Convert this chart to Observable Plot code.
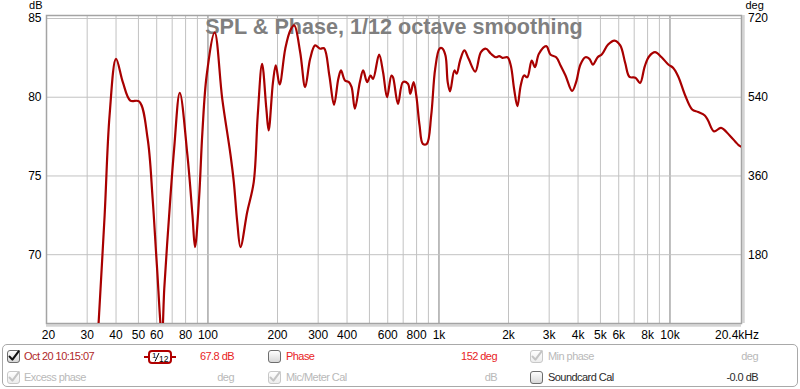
<!DOCTYPE html>
<html><head><meta charset="utf-8">
<script src="https://cdn.jsdelivr.net/npm/d3@7"></script>
<script src="https://cdn.jsdelivr.net/npm/@observablehq/plot@0.6"></script>
<style>
html,body{margin:0;padding:0;background:#fff;}
#wrap{position:relative;width:800px;height:389px;overflow:hidden;font-family:"Liberation Sans",Arial,sans-serif;}
#wrap svg.plot{position:absolute;left:0;top:0;}
#legend{position:absolute;left:2px;top:344px;width:796px;height:43px;border:1px solid #a9a9a9;border-radius:5px;box-sizing:border-box;}
.it{position:absolute;white-space:nowrap;font-size:11px;letter-spacing:-0.55px;line-height:13px;}
.r{text-align:right;}
.cb{position:absolute;}
</style>
</head><body>
<div id="wrap"></div>
<script>
// ---------- data ----------
const freqHz = [33.0, 33.6, 35.7, 37.5, 40.0, 42.8, 46.1, 50.4, 54.8, 57.6, 60.1,
  63.2, 64.7, 67.9, 71.4, 75.5, 81.5, 85.7, 87.9, 91.5, 94.6,
  98.7, 106.9, 115.3, 125.3, 129.4, 133.9, 138.3, 147.8, 157.8, 164.2,
  171.5, 178.9, 183.1, 191.2, 196.6, 204.2, 216.1, 227.1, 236.3, 250.7,
  263.5, 276.9, 290.9, 305.8, 318.1, 335.3, 351.3, 366.7, 376.6, 391.7,
  407.5, 418.7, 432.6, 454.6, 469.7, 488.8, 505.5, 518.6, 550.5, 572.8,
  596.0, 622.5, 632.4, 664.6, 698.4, 733.9, 751.6, 776.6, 797.6, 824.1,
  851.5, 886.1, 925.5, 963.0, 1005, 1032, 1067, 1091, 1117, 1166,
  1193, 1234, 1288, 1344, 1436, 1519, 1597, 1678, 1763, 1822,
  1883, 1979, 2046, 2114, 2185, 2259, 2335, 2413, 2520, 2604,
  2709, 2913, 3043, 3217, 3360, 3530, 3770, 3923, 4097, 4304,
  4479, 4636, 4863, 5075, 5397, 5756, 6092, 6401, 6679, 7087,
  7425, 7771, 8119, 8617, 9200, 9833, 10332, 10857, 11638, 12474,
  13241, 14148, 14618, 15516, 16630, 18135, 19883, 20400];
const splDb = [63.3, 65.6, 72.49, 78.84, 82.44, 80.96, 79.79, 79.73, 77.38, 73.57, 69.32,
  64.8, 67.86, 72.49, 76.75, 80.28, 76.30, 72.49, 70.48, 73.57, 77.78,
  81.38, 84.11, 79.90, 76.30, 74.61, 72.07, 70.48, 72.70, 74.61, 78.84,
  82.12, 79.29, 77.89, 80.96, 82.02, 80.81, 83.08, 84.24, 84.56, 82.86,
  80.64, 82.44, 83.29, 83.08, 83.11, 81.38, 79.52, 81.17, 81.70, 81.06,
  80.96, 80.64, 79.27, 80.96, 81.70, 80.96, 81.38, 81.17, 82.70, 81.59,
  80.00, 81.38, 81.27, 79.58, 80.96, 80.85, 80.22, 80.96, 80.11, 78.21,
  77.04, 77.04, 78.84, 81.81, 83.08, 83.11, 82.65, 80.96, 80.37, 81.70,
  81.49, 82.33, 82.97, 82.44, 81.63, 82.86, 83.08, 82.76, 82.54, 82.61,
  82.50, 82.54, 82.02, 80.54, 79.43, 80.75, 81.38, 81.27, 82.33, 81.91,
  82.76, 83.24, 82.70, 82.54, 82.02, 81.38, 80.40, 80.96, 82.08, 82.54,
  82.44, 82.07, 82.54, 82.73, 83.35, 83.60, 83.29, 82.17, 81.29, 81.24,
  80.90, 81.95, 82.59, 82.86, 82.54, 82.08, 81.86, 81.32, 80.11, 79.22,
  79.06, 78.84, 78.52, 77.83, 78.05, 77.57, 76.94, 76.85];

const xTickValues = [30, 40, 50, 60, 80, 100, 200, 300, 400, 600, 800, 1000, 2000, 3000, 4000, 5000, 6000, 8000, 10000];
const xTickLabels = ["30", "40", "50", "60", "80", "100", "200", "300", "400", "600", "800", "1k", "2k", "3k", "4k", "5k", "6k", "8k", "10k"];
const xEdgeValues = [20, 20400];
const xEdgeLabels = ["20", "20.4kHz"];
const minorGrid = [30, 40, 50, 60, 70, 80, 90, 200, 300, 400, 500, 600, 700, 800, 900,
  2000, 3000, 4000, 5000, 6000, 7000, 8000, 9000];
const decadeGrid = [100, 1000, 10000];
const dbTicks = [70, 75, 80, 85];
const dbLabels = ["70", "75", "80", "85"];
const degLabels = ["180", "360", "540", "720"];
const xDomain = [20, 20400];
const yDomain = [65.63, 85.19];
const titleText = ["SPL & Phase, 1/12 octave smoothing"];

const data = freqHz.map((f, i) => ({f, db: splDb[i]}));
const lookup = (vals, labels) => d => labels[vals.indexOf(d)];

const plot = Plot.plot({
  width: 800,
  height: 344,
  marginLeft: 46,
  marginRight: 59,
  marginTop: 15,
  marginBottom: 21,
  style: {fontFamily: "'Liberation Sans', Arial, sans-serif", fontSize: "12px", background: "#fff", overflow: "visible"},
  x: {type: "log", domain: xDomain, axis: null},
  y: {domain: yDomain, axis: null},
  marks: [
    Plot.ruleX(minorGrid, {stroke: "#c2c2c2", strokeWidth: 1}),
    Plot.ruleX(decadeGrid, {stroke: "#7c7c7c", strokeWidth: 1}),
    Plot.ruleY(dbTicks, {stroke: "#c2c2c2", strokeWidth: 1}),
    Plot.ruleX([xDomain[1]], {dx: 2, stroke: "#d4d4d4", strokeWidth: 2.5}),
    Plot.ruleY([yDomain[0]], {dy: 2, stroke: "#d4d4d4", strokeWidth: 2.5}),
    Plot.frame({stroke: "#a4a4a4", strokeWidth: 1.5}),
    Plot.text(titleText, {frameAnchor: "top", dy: 18, lineAnchor: "bottom", fontSize: 21.6, fontWeight: "bold", fill: "#7f7f7f", text: d => d}),
    Plot.line(data, {x: "f", y: "db", stroke: "#a80000", strokeWidth: 2.2, curve: "catmull-rom", clip: true}),
    Plot.text(xTickValues, {x: d => d, frameAnchor: "bottom", dy: 12, lineAnchor: "middle", fill: "#000", text: lookup(xTickValues, xTickLabels)}),
    Plot.text([xEdgeValues[0]], {x: d => d, frameAnchor: "bottom", dy: 12, dx: 2, lineAnchor: "middle", fill: "#000", text: lookup(xEdgeValues, xEdgeLabels)}),
    Plot.text([xEdgeValues[1]], {x: d => d, frameAnchor: "bottom", dy: 12, dx: -4.5, lineAnchor: "middle", fill: "#000", text: lookup(xEdgeValues, xEdgeLabels)}),
    Plot.axisY(dbTicks, {anchor: "left", tickSize: 0, tickPadding: 5, tickFormat: lookup(dbTicks, dbLabels), fill: "#000", label: null}),
    Plot.axisY(dbTicks, {anchor: "right", tickSize: 0, tickPadding: 6.5, tickFormat: lookup(dbTicks, degLabels), fill: "#000", label: null}),
    Plot.text(["dB"], {frameAnchor: "top-left", dx: -4, dy: -6.5, fontSize: 11, textAnchor: "end", lineAnchor: "bottom", fill: "#000", text: d => d}),
    Plot.text(["deg"], {frameAnchor: "top-right", dx: 4, dy: -7, fontSize: 11, textAnchor: "start", lineAnchor: "bottom", fill: "#000", text: d => d})
  ]
});
plot.classList.add("plot");
const wrap = document.getElementById("wrap");
wrap.appendChild(plot);

// ---------- legend ----------
const legend = document.createElement("div");
legend.id = "legend";
wrap.appendChild(legend);

function checkbox(x, y, checked, enabled) {
  const ns = "http://www.w3.org/2000/svg";
  const s = document.createElementNS(ns, "svg");
  s.setAttribute("class", "cb");
  s.setAttribute("width", 15); s.setAttribute("height", 15);
  s.style.left = x + "px"; s.style.top = y + "px";
  const border = enabled ? "#6d6d6d" : "#c8c8c8";
  s.innerHTML = `<defs><linearGradient id="g${x}${y}" x1="0" y1="0" x2="0" y2="1"><stop offset="0" stop-color="#ffffff"/><stop offset="1" stop-color="${enabled ? '#d6d6d6' : '#ececec'}"/></linearGradient></defs>
    <rect x="0.5" y="0.5" width="12" height="12" rx="2.5" fill="url(#g${x}${y})" stroke="${border}"/>` +
    (checked ? `<path d="M2.6 6.6 L5.4 9.6 L11.8 1.2" fill="none" stroke="${enabled ? '#111' : '#c4c4c4'}" stroke-width="2.1" stroke-linecap="round" stroke-linejoin="round"/>` : "");
  wrap.appendChild(s);
}
function label(text, x, y, color, right) {
  const d = document.createElement("div");
  d.className = "it" + (right ? " r" : "");
  d.textContent = text;
  d.style.color = color;
  d.style.top = y + "px";
  if (right) { d.style.right = (800 - x) + "px"; } else { d.style.left = x + "px"; }
  wrap.appendChild(d);
}
const row1 = 350, row2 = 370.5;
const dark = "#b0282a", red = "#e8231e", gray = "#b9b9b9", black = "#2a2a2a";
checkbox(7, row1, true, true);
label("Oct 20 10:15:07", 24, row1, dark);
label("67.8 dB", 234, row1, red, true);
// smoothing icon
{
  const ns = "http://www.w3.org/2000/svg";
  const s = document.createElementNS(ns, "svg");
  s.setAttribute("class", "cb");
  s.setAttribute("width", 34); s.setAttribute("height", 15);
  s.style.left = "143px"; s.style.top = "350px";
  s.innerHTML = `<line x1="1" y1="7" x2="6" y2="7" stroke="#b00000" stroke-width="2"/>
    <line x1="28" y1="7" x2="33" y2="7" stroke="#b00000" stroke-width="2"/>
    <rect x="6" y="1" width="22" height="12" rx="3" fill="#fff" stroke="#b00000" stroke-width="2"/>
    <text x="9" y="8" font-size="8" font-family="Liberation Sans, Arial" fill="#000">1</text>
    <line x1="12" y1="11.5" x2="16" y2="3" stroke="#000" stroke-width="1"/>
    <text x="16" y="12" font-size="8.5" font-family="Liberation Sans, Arial" fill="#000">12</text>`;
  wrap.appendChild(s);
}
checkbox(268, row1, false, true);
label("Phase", 286, row1, red);
label("152 deg", 497, row1, red, true);
checkbox(530, row1, true, false);
label("Min phase", 548, row1, gray);
label("deg", 758, row1, gray, true);

checkbox(7, row2, true, false);
label("Excess phase", 24, row2, gray);
label("deg", 234, row2, gray, true);
checkbox(268, row2, true, false);
label("Mic/Meter Cal", 286, row2, gray);
label("dB", 497, row2, gray, true);
checkbox(530, row2, false, true);
label("Soundcard Cal", 548, row2, black);
label("-0.0 dB", 758, row2, black, true);
</script>
</body></html>
